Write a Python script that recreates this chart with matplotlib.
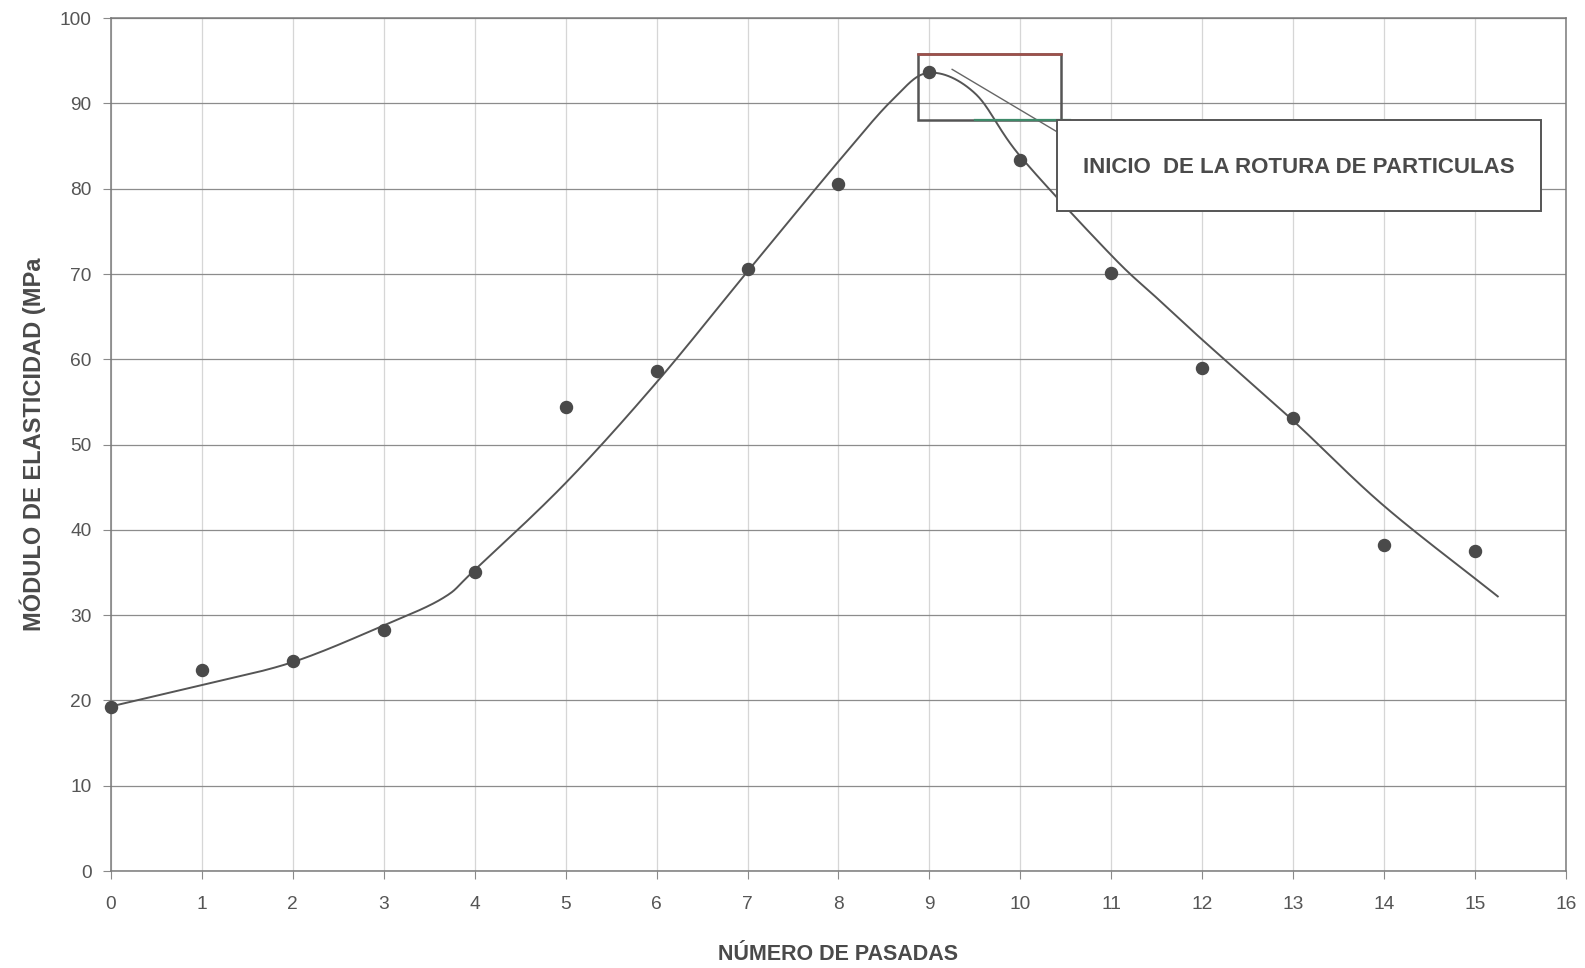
import numpy as np
import matplotlib
matplotlib.use("Agg")
import matplotlib.pyplot as plt
from matplotlib.patches import Rectangle

# Measured modulus for each number of passes
pasadas = [0, 1, 2, 3, 4, 5, 6, 7, 8, 9, 10, 11, 12, 13, 14, 15]
modulo = [19.2, 23.6, 24.6, 28.3, 35.1, 54.4, 58.6, 70.6, 80.6, 93.7,
          83.4, 70.1, 59.0, 53.1, 38.2, 37.5]

# Hand-fitted trend curve (knots, smoothed when drawn)
curva_x = [0, 1, 2, 3, 3.65, 4, 5, 6, 7, 8, 8.6, 9, 9.5, 10, 11, 11.5,
           12, 13, 14, 15.25]
curva_y = [19.3, 21.8, 24.5, 28.8, 32.0, 35.3, 45.5, 57.3, 70.3, 83.2,
           90.5, 93.6, 91.2, 83.8, 72.2, 67.2, 62.3, 52.8, 42.8, 32.2]

x_ticks = list(range(0, 17))
y_ticks = list(range(0, 101, 10))

nota = "INICIO  DE LA ROTURA DE PARTICULAS"


def catmull_rom(xs, ys, n=30):
    xs = np.asarray(xs, float)
    ys = np.asarray(ys, float)
    px = np.concatenate([[2 * xs[0] - xs[1]], xs, [2 * xs[-1] - xs[-2]]])
    py = np.concatenate([[2 * ys[0] - ys[1]], ys, [2 * ys[-1] - ys[-2]]])
    t = np.linspace(0, 1, n, endpoint=False)

    def seg(a, b, c, d):
        return 0.5 * ((2 * b) + (-a + c) * t
                      + (2 * a - 5 * b + 4 * c - d) * t ** 2
                      + (-a + 3 * b - 3 * c + d) * t ** 3)

    out_x, out_y = [], []
    for i in range(1, len(px) - 2):
        out_x.extend(seg(*px[i - 1:i + 3]))
        out_y.extend(seg(*py[i - 1:i + 3]))
    out_x.append(xs[-1])
    out_y.append(ys[-1])
    return np.array(out_x), np.array(out_y)


plt.rcParams['font.family'] = ['Liberation Sans', 'DejaVu Sans']

fig = plt.figure(figsize=(15.85, 9.68), dpi=100)
ax = fig.add_axes([0.070, 0.1002, 0.918, 0.881])

ax.set_xlim(0, 16)
ax.set_ylim(0, 100)
ax.set_xticks(x_ticks)
ax.set_yticks(y_ticks)
ax.grid(True, axis='y', color='#8c8c8c', linewidth=0.9)
ax.grid(True, axis='x', color='#d6d6d6', linewidth=0.9)
ax.set_axisbelow(True)
for s in ax.spines.values():
    s.set_color('#7a7a7a')
    s.set_linewidth(1.1)
ax.tick_params(axis='both', colors='#8a8a8a', length=6, width=0.8,
               labelsize=13.8, labelcolor='#555555')
ax.tick_params(axis='x', pad=12)
ax.tick_params(axis='y', pad=8)

cx, cy = catmull_rom(curva_x, curva_y)
ax.plot(cx, cy, color='#555555', linewidth=1.4, zorder=3)
ax.scatter(pasadas, modulo, s=75, color='#4a4a4a', zorder=4,
           clip_on=False)

# Highlight around the peak
ax.add_patch(Rectangle((8.87, 88.1), 10.45 - 8.87, 95.8 - 88.1,
                       fill=False, edgecolor='#555555', linewidth=1.8,
                       zorder=5))
ax.plot([8.87, 10.45], [95.8, 95.8], color='#a0504a', linewidth=1.8,
        zorder=6)
ax.plot([9.5, 10.55], [88.1, 88.1], color='#3f8a6a', linewidth=1.6,
        zorder=6)

# Leader line and annotation box
ax.plot([9.25, 10.4], [94.0, 86.7], color='#666666', linewidth=1.0,
        zorder=5)
ax.add_patch(Rectangle((10.40, 77.4), 15.73 - 10.40, 88.1 - 77.4,
                       facecolor='white', edgecolor='#555555',
                       linewidth=1.4, zorder=7))
ax.text((10.40 + 15.73) / 2, 82.5, nota, ha='center', va='center',
        fontsize=16, fontweight='bold', color='#4a4a4a', zorder=8)

ax.set_xlabel("NÚMERO DE PASADAS", fontsize=15.5, fontweight='bold',
              color='#4a4a4a', labelpad=22)
ax.set_ylabel("MÓDULO DE ELASTICIDAD (MPa", fontsize=17,
              fontweight='bold', color='#4a4a4a', labelpad=10)

fig.savefig("out.png", dpi=100, facecolor='white')
